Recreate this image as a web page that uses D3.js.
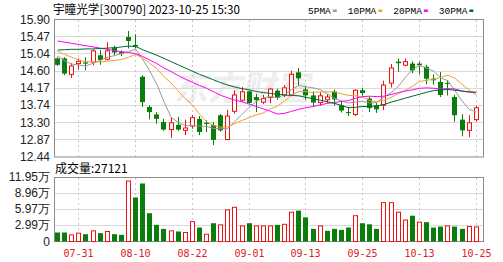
<!DOCTYPE html>
<html>
<head>
<meta charset="utf-8">
<script src="https://cdn.jsdelivr.net/npm/d3@7/dist/d3.min.js"></script>
<style>
  body { margin: 0; background: #fff; }
  svg { display: block; }
</style>
</head>
<body>
<svg width="503" height="262"></svg>
<script>
// 交易日
const dates = ["07-26","07-27","07-28","07-31","08-01","08-02","08-03","08-04","08-07","08-08",
  "08-09","08-10","08-11","08-14","08-15","08-16","08-17","08-18","08-21","08-22",
  "08-23","08-24","08-25","08-28","08-29","08-30","08-31","09-01","09-04","09-05",
  "09-06","09-07","09-08","09-11","09-12","09-13","09-14","09-15","09-18","09-19",
  "09-20","09-21","09-22","09-25","09-26","09-27","09-28","10-09","10-10","10-11",
  "10-12","10-13","10-16","10-17","10-18","10-19","10-20","10-23","10-24","10-25"];

const opens = [14.92,14.92,14.52,14.79,14.82,14.83,15.00,14.90,15.19,15.08,
  15.46,15.26,14.46,13.70,13.51,13.32,13.13,13.25,13.11,13.22,
  13.40,13.30,13.24,13.49,12.88,13.59,13.87,14.09,13.95,13.82,
  13.94,14.11,14.00,14.00,14.57,14.14,13.99,13.81,13.88,14.09,
  13.74,13.57,13.51,14.12,13.91,13.74,13.74,14.30,14.84,14.75,
  14.79,14.79,14.71,14.41,14.33,14.30,13.95,13.38,13.11,13.38];
const highs = [14.95,14.95,14.80,14.92,14.95,15.15,15.13,15.33,15.24,15.12,
  15.61,15.53,14.50,13.74,13.57,13.40,13.43,13.45,13.38,13.50,
  13.47,13.36,13.32,13.52,13.63,14.12,14.20,14.12,14.03,14.00,
  14.18,14.16,14.25,14.61,14.68,14.22,14.09,14.07,14.02,14.14,
  13.84,13.70,14.14,14.18,13.96,13.80,14.36,14.78,14.92,14.92,
  14.85,14.84,14.76,14.52,14.58,14.37,14.00,13.52,13.49,13.73];
const lows = [14.73,14.50,14.43,14.64,14.62,14.75,14.76,14.87,15.00,14.98,
  15.17,15.17,13.70,13.39,13.28,13.10,12.92,13.10,12.99,13.15,
  12.99,13.07,12.74,13.08,12.86,13.53,13.83,13.78,13.57,13.77,
  13.80,13.88,13.95,13.98,14.23,13.88,13.70,13.73,13.80,13.73,
  13.56,13.47,13.47,13.98,13.57,13.55,13.62,14.19,14.58,14.72,
  14.55,14.52,14.27,14.26,13.95,13.99,13.33,12.96,12.94,13.33];
const closes = [14.76,14.54,14.73,14.85,14.79,15.11,14.88,15.11,15.07,15.04,
  15.36,15.22,13.82,13.57,13.40,13.13,13.30,13.13,13.17,13.43,
  13.07,13.27,12.87,13.11,13.47,14.00,14.08,13.80,13.87,13.91,
  14.15,13.93,14.18,14.52,14.42,13.99,13.81,13.98,13.95,13.89,
  13.61,13.55,14.12,14.05,13.67,13.64,14.25,14.68,14.80,14.84,
  14.62,14.75,14.41,14.37,14.00,14.28,13.49,13.11,13.30,13.68];

// 成交量（万）
const volumes = [1.67,1.67,1.24,1.55,1.36,1.98,1.55,1.86,1.36,1.24,
  11.26,8.20,10.80,5.26,3.10,2.35,1.98,1.86,1.67,3.70,
  2.60,1.36,3.40,3.10,5.88,6.37,2.90,3.40,2.90,2.90,
  2.90,3.10,3.20,5.45,5.75,4.50,2.35,2.90,1.98,2.35,
  2.16,2.60,4.80,3.40,3.20,2.35,7.23,7.23,5.45,4.00,
  4.80,3.60,3.60,2.60,2.78,2.90,2.78,2.35,2.78,2.71];

// 均线
const ma5 = [14.98,14.86,14.78,14.75,14.73,14.80,14.87,14.95,14.99,15.04,
  15.09,15.16,14.90,14.60,14.27,13.83,13.44,13.31,13.23,13.23,
  13.22,13.21,13.16,13.15,13.16,13.34,13.51,13.69,13.84,13.93,
  13.96,13.93,14.01,14.14,14.24,14.21,14.18,14.14,14.03,13.92,
  13.85,13.80,13.82,13.84,13.80,13.81,13.95,14.06,14.21,14.44,
  14.64,14.74,14.68,14.60,14.43,14.36,14.11,13.85,13.64,13.57];
const ma10 = [15.10,15.02,14.95,14.88,14.84,14.83,14.83,14.85,14.87,14.89,
  14.95,15.02,14.93,14.80,14.66,14.46,14.30,14.10,13.91,13.75,
  13.52,13.33,13.23,13.19,13.20,13.28,13.36,13.43,13.50,13.55,
  13.65,13.72,13.85,13.99,14.09,14.09,14.06,14.08,14.08,14.08,
  14.03,13.99,13.98,13.94,13.86,13.83,13.87,13.94,14.03,14.12,
  14.22,14.34,14.37,14.40,14.44,14.50,14.42,14.27,14.12,14.00];
const ma20 = [15.36,15.33,15.30,15.27,15.24,15.21,15.18,15.15,15.12,15.09,
  15.07,15.04,14.97,14.88,14.79,14.68,14.59,14.49,14.40,14.32,
  14.24,14.17,14.08,13.99,13.93,13.87,13.83,13.77,13.71,13.65,
  13.59,13.52,13.54,13.59,13.64,13.68,13.71,13.75,13.79,13.81,
  13.84,13.86,13.92,13.96,13.97,13.96,13.97,14.01,14.06,14.10,
  14.13,14.17,14.18,14.17,14.15,14.16,14.15,14.10,14.07,14.06];
const ma30 = [15.13,15.14,15.15,15.15,15.16,15.16,15.17,15.18,15.19,15.21,
  15.23,15.22,15.14,15.07,15.00,14.92,14.84,14.76,14.68,14.60,
  14.52,14.45,14.38,14.31,14.25,14.20,14.16,14.13,14.09,14.06,
  14.04,14.02,14.00,13.99,13.98,13.94,13.91,13.87,13.83,13.79,
  13.74,13.68,13.69,13.71,13.71,13.73,13.76,13.82,13.87,13.92,
  13.97,14.02,14.07,14.11,14.13,14.14,14.12,14.10,14.08,14.07];

const maNames = ["5PMA", "10PMA", "20PMA", "30PMA"];
const maColors = ["#999999", "#f0a030", "#ff00ff", "#006837"];

const priceTicks = [15.90, 15.47, 15.04, 14.60, 14.17, 13.74, 13.30, 12.87, 12.44];
const volTicks = [11.95, 8.96, 5.97, 2.99, 0];
const volTickLabels = ["11.95万", "8.96万", "5.97万", "2.99万", "0"];
const xLabels = ["07-31", "08-10", "08-22", "09-01", "09-13", "09-25", "10-13", "10-25"];

const title = "宇瞳光学[300790] 2023-10-25 15:30";
const lastVolume = "27121";

const RED = "#f01010";
const GREEN = "#0a7d0a";

const svg = d3.select("svg");

const x = d3.scaleBand().domain(dates).range([54, 479.8]);
const cx = d => Math.round(x(d) + x.bandwidth() / 2 - 0.5) + 0.5;
const yP = d3.scaleLinear().domain([12.44, 15.90]).range([157, 19.5]);
const yV = d3.scaleLinear().domain([0, 11.95]).range([241.5, 177.3]);
const crisp = v => Math.round(v - 0.5) + 0.5;

// 水印
svg.append("text")
  .attr("x", 195).attr("y", 100)
  .attr("transform", "skewX(-12)")
  .attr("font-family", "Noto Sans CJK SC")
  .attr("font-size", 34).attr("font-weight", "bold")
  .attr("fill", "#eeeeee")
  .text("东方财富");

// 标题
svg.append("text")
  .attr("x", 53).attr("y", 14)
  .attr("font-family", "Noto Sans CJK SC")
  .attr("font-size", 12)
  .attr("fill", "#000")
  .attr("textLength", 187).attr("lengthAdjust", "spacingAndGlyphs")
  .text(title);

// 图例
let lx = 308;
maNames.forEach((name, k) => {
  const t = svg.append("text")
    .attr("x", lx).attr("y", 14)
    .attr("font-family", "Liberation Mono")
    .attr("font-size", 9.5)
    .attr("fill", "#000")
    .text(name);
  const w = t.node().getComputedTextLength();
  svg.append("rect")
    .attr("x", lx + w + 2).attr("y", 9.5)
    .attr("width", 4).attr("height", 2.5)
    .attr("fill", maColors[k]);
  lx += w + 2 + 4 + 11;
});

// 价格区
const pricePanel = svg.append("g");
priceTicks.slice(1, -1).forEach(v => {
  pricePanel.append("line")
    .attr("x1", 54).attr("x2", 483)
    .attr("y1", crisp(yP(v))).attr("y2", crisp(yP(v)))
    .attr("stroke", "#d9d9d9");
});
xLabels.forEach(d => {
  pricePanel.append("line")
    .attr("x1", cx(d)).attr("x2", cx(d))
    .attr("y1", 20).attr("y2", 157)
    .attr("stroke", "#c8c8c8").attr("stroke-dasharray", "2,3");
});
pricePanel.append("rect")
  .attr("x", 54.5).attr("y", 19.5).attr("width", 429).attr("height", 137.5)
  .attr("fill", "none").attr("stroke", "#8c8c8c");

svg.append("g").selectAll("text").data(priceTicks).join("text")
  .attr("x", 50).attr("y", d => yP(d) + 4)
  .attr("text-anchor", "end")
  .attr("font-family", "Liberation Sans, Arial")
  .attr("font-size", 12)
  .attr("fill", "#222")
  .text(d => d.toFixed(2));

// K线
const candles = svg.append("g").selectAll("g").data(dates).join("g");
candles.append("line")
  .attr("x1", d => cx(d)).attr("x2", d => cx(d))
  .attr("y1", (d, i) => yP(highs[i])).attr("y2", (d, i) => yP(lows[i]))
  .attr("stroke", (d, i) => closes[i] >= opens[i] ? RED : GREEN);
candles.append("rect")
  .attr("x", (d, i) => closes[i] >= opens[i] ? cx(d) - 2 : cx(d) - 2.5)
  .attr("width", (d, i) => closes[i] >= opens[i] ? 4 : 5)
  .attr("y", (d, i) => yP(Math.max(opens[i], closes[i])))
  .attr("height", (d, i) => Math.max(1, Math.abs(yP(opens[i]) - yP(closes[i]))))
  .attr("fill", (d, i) => closes[i] >= opens[i] ? "#fff" : GREEN)
  .attr("stroke", (d, i) => closes[i] >= opens[i] ? RED : "none");

// 均线
const line = d3.line()
  .x((d, i) => x(dates[i]) + x.bandwidth() / 2)
  .y(d => yP(d));
[ma5, ma10, ma20, ma30].forEach((s, k) => {
  svg.append("path")
    .attr("d", line(s))
    .attr("fill", "none")
    .attr("stroke", maColors[k])
    .attr("stroke-width", 1);
});

// 成交量区
svg.append("text")
  .attr("x", 55).attr("y", 173)
  .attr("font-family", "Noto Sans CJK SC")
  .attr("font-size", 12)
  .attr("fill", "#000")
  .text("成交量:" + lastVolume);

const volPanel = svg.append("g");
volTicks.slice(1, -1).forEach(v => {
  volPanel.append("line")
    .attr("x1", 54).attr("x2", 483)
    .attr("y1", crisp(yV(v))).attr("y2", crisp(yV(v)))
    .attr("stroke", "#d9d9d9");
});
xLabels.forEach(d => {
  volPanel.append("line")
    .attr("x1", cx(d)).attr("x2", cx(d))
    .attr("y1", 178).attr("y2", 241)
    .attr("stroke", "#c8c8c8").attr("stroke-dasharray", "2,3");
});
volPanel.append("rect")
  .attr("x", 54.5).attr("y", 177.5).attr("width", 429).attr("height", 64)
  .attr("fill", "none").attr("stroke", "#8c8c8c");

svg.append("g").selectAll("text").data(volTicks).join("text")
  .attr("x", 50).attr("y", d => yV(d) + 4)
  .attr("text-anchor", "end")
  .attr("font-family", "Liberation Sans, Arial")
  .attr("font-size", 12)
  .attr("fill", "#222")
  .text((d, k) => volTickLabels[k]);

// 成交量柱：与前一日收盘比较着色
const volUp = i => i === 0 ? closes[0] >= opens[0] : closes[i] >= closes[i - 1];
svg.append("g").selectAll("rect").data(dates).join("rect")
  .attr("x", (d, i) => volUp(i) ? cx(d) - 2 : cx(d) - 2.5)
  .attr("width", (d, i) => volUp(i) ? 4 : 5)
  .attr("y", (d, i) => yV(volumes[i]))
  .attr("height", (d, i) => yV(0) - yV(volumes[i]))
  .attr("fill", (d, i) => volUp(i) ? "#fff" : GREEN)
  .attr("stroke", (d, i) => volUp(i) ? RED : "none");

// 日期
svg.append("g").selectAll("text").data(xLabels).join("text")
  .attr("x", d => cx(d)).attr("y", 257)
  .attr("text-anchor", "middle")
  .attr("font-family", "DejaVu Sans Mono")
  .attr("font-size", 10)
  .attr("fill", "#e02020")
  .text(d => d);
</script>
</body>
</html>
